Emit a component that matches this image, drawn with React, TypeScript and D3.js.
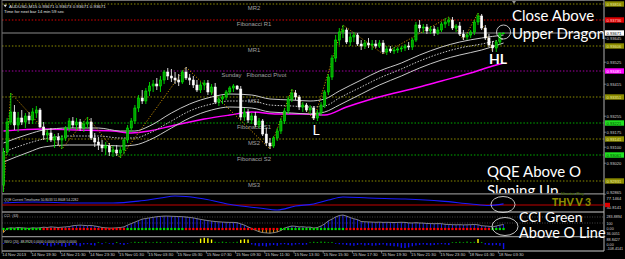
import React from 'react';
import * as d3 from 'd3';

// ---------- DATA ----------
const tickBars = [0, 8, 16, 24, 32, 40, 48, 56, 64, 72, 80, 88, 96, 104, 112, 120, 128, 136];
const tickLabels = ['14 Nov 2013', '14 Nov 19:30', '14 Nov 21:30', '14 Nov 23:30', '15 Nov 01:30', '15 Nov 03:30',
  '15 Nov 05:30', '15 Nov 07:30', '15 Nov 09:30', '15 Nov 11:30', '15 Nov 13:30', '15 Nov 15:30', '15 Nov 17:30',
  '15 Nov 19:30', '15 Nov 21:30', '15 Nov 23:30', '18 Nov 01:30', '18 Nov 03:30'];

// OHLC in price points (1e-5)
const ohlc: [number, number, number, number][] = [
  [92911, 93096, 92876, 93076], [93076, 93246, 93061, 93226], [93226, 93371, 93211, 93276], [93276, 93311, 93186, 93211],
  [93211, 93276, 93176, 93246], [93246, 93286, 93211, 93226], [93226, 93271, 93196, 93256], [93256, 93276, 93216, 93236],
  [93236, 93296, 93216, 93276], [93271, 93306, 93246, 93286], [93286, 93296, 93196, 93201], [93201, 93226, 93136, 93161],
  [93161, 93186, 93126, 93171], [93171, 93196, 93126, 93136], [93136, 93166, 93096, 93151], [93151, 93171, 93111, 93136],
  [93136, 93161, 93091, 93146], [93146, 93206, 93131, 93196], [93196, 93246, 93176, 93231], [93231, 93251, 93196, 93211],
  [93211, 93246, 93186, 93226], [93226, 93241, 93181, 93196], [93196, 93231, 93176, 93216], [93216, 93251, 93196, 93226],
  [93226, 93246, 93136, 93146], [93146, 93171, 93101, 93126], [93126, 93151, 93086, 93111], [93111, 93136, 93076, 93096],
  [93096, 93126, 93061, 93106], [93106, 93121, 93056, 93076], [93076, 93106, 93051, 93086], [93086, 93111, 93056, 93071],
  [93071, 93101, 93046, 93086], [93086, 93146, 93066, 93136], [93136, 93211, 93121, 93196], [93196, 93246, 93176, 93231],
  [93231, 93311, 93216, 93296], [93296, 93361, 93276, 93346], [93346, 93386, 93316, 93331], [93331, 93396, 93316, 93381],
  [93381, 93426, 93356, 93406], [93406, 93436, 93376, 93416], [93416, 93446, 93386, 93406], [93406, 93456, 93376, 93436],
  [93436, 93486, 93416, 93476], [93476, 93496, 93436, 93456], [93456, 93491, 93426, 93446], [93446, 93476, 93416, 93436],
  [93436, 93466, 93406, 93426], [93426, 93486, 93416, 93476], [93476, 93501, 93436, 93446], [93446, 93466, 93411, 93436],
  [93436, 93456, 93396, 93411], [93411, 93436, 93376, 93386], [93386, 93426, 93371, 93411], [93411, 93436, 93386, 93421],
  [93421, 93436, 93361, 93376], [93376, 93416, 93361, 93401], [93401, 93421, 93316, 93326], [93326, 93356, 93306, 93341],
  [93341, 93361, 93316, 93351], [93351, 93386, 93336, 93376], [93376, 93406, 93361, 93396], [93396, 93416, 93376, 93406],
  [93406, 93411, 93386, 93391], [93391, 93406, 93236, 93251], [93251, 93296, 93231, 93276], [93276, 93291, 93221, 93236],
  [93236, 93271, 93216, 93256], [93256, 93276, 93201, 93211], [93211, 93246, 93196, 93231], [93231, 93241, 93156, 93166],
  [93166, 93196, 93106, 93121], [93121, 93146, 93091, 93106], [93106, 93156, 93096, 93146], [93146, 93196, 93131, 93181],
  [93181, 93246, 93166, 93231], [93231, 93296, 93216, 93281], [93281, 93356, 93266, 93341], [93341, 93391, 93326, 93371],
  [93371, 93386, 93336, 93351], [93351, 93361, 93286, 93301], [93301, 93326, 93276, 93311], [93311, 93321, 93276, 93286],
  [93286, 93311, 93266, 93296], [93296, 93306, 93236, 93246], [93246, 93286, 93231, 93271], [93271, 93326, 93256, 93311],
  [93311, 93386, 93296, 93376], [93376, 93466, 93361, 93451], [93451, 93561, 93436, 93546], [93546, 93661, 93526, 93636],
  [93636, 93696, 93611, 93676], [93676, 93711, 93646, 93686], [93686, 93696, 93616, 93626], [93626, 93671, 93606, 93651],
  [93651, 93676, 93626, 93661], [93661, 93671, 93606, 93616], [93616, 93636, 93586, 93606], [93606, 93636, 93591, 93621],
  [93621, 93646, 93596, 93611], [93611, 93636, 93586, 93616], [93616, 93636, 93596, 93606], [93606, 93636, 93596, 93621],
  [93621, 93636, 93566, 93576], [93576, 93606, 93561, 93591], [93591, 93606, 93571, 93581], [93581, 93601, 93566, 93586],
  [93586, 93601, 93571, 93591], [93591, 93606, 93576, 93596], [93596, 93616, 93581, 93606], [93606, 93626, 93586, 93601],
  [93601, 93646, 93586, 93636], [93636, 93726, 93626, 93711], [93711, 93736, 93676, 93696], [93696, 93716, 93671, 93701],
  [93701, 93716, 93666, 93681], [93681, 93706, 93666, 93691], [93691, 93706, 93656, 93671], [93671, 93701, 93661, 93686],
  [93686, 93726, 93676, 93716], [93716, 93746, 93696, 93726], [93726, 93751, 93706, 93736], [93736, 93751, 93686, 93696],
  [93696, 93716, 93676, 93706], [93706, 93726, 93656, 93666], [93666, 93686, 93636, 93651], [93651, 93671, 93636, 93661],
  [93661, 93686, 93646, 93676], [93676, 93736, 93661, 93726], [93726, 93771, 93711, 93756], [93756, 93766, 93686, 93696],
  [93696, 93711, 93636, 93646], [93646, 93666, 93601, 93611], [93611, 93631, 93576, 93596], [93596, 93636, 93576, 93626],
  [93626, 93671, 93611, 93671], [93671, 93673, 93671, 93671],
];

const magentaIdx = [0, 11, 20, 30, 35, 40, 46, 55, 62, 68, 75, 82, 88, 94, 100, 105, 114, 120, 128, 134, 137];
const magentaVals = [93181, 93191, 93186, 93181, 93171, 93181, 93206, 93241, 93261, 93276, 93266, 93266, 93261, 93301, 93336, 93361, 93401, 93431, 93471, 93506, 93521];

const dragonIdx = [0, 7, 11, 18, 26, 32, 36, 40, 46, 51, 57, 62, 68, 73, 79, 84, 88, 92, 98, 103, 109, 114, 120, 125, 131, 137];
const dragonUpper = [93121, 93166, 93186, 93196, 93196, 93181, 93181, 93206, 93271, 93316, 93351, 93366, 93361, 93341, 93336, 93331, 93341, 93381, 93436, 93481, 93521, 93561, 93601, 93626, 93646, 93661];
const dragonMiddle = [93076, 93121, 93141, 93156, 93156, 93146, 93146, 93171, 93231, 93281, 93316, 93331, 93331, 93311, 93306, 93301, 93306, 93346, 93401, 93446, 93491, 93531, 93571, 93596, 93616, 93641];
const dragonLower = [93026, 93076, 93101, 93111, 93111, 93106, 93111, 93136, 93196, 93246, 93286, 93301, 93296, 93276, 93271, 93266, 93276, 93311, 93366, 93411, 93456, 93496, 93536, 93561, 93586, 93621];

const zigzagIdx = [0, 2, 16, 23, 32, 50, 73, 79, 85, 93, 104, 122, 126, 130, 134];
const zigzagVals = [92876, 93371, 93091, 93251, 93046, 93501, 93091, 93391, 93236, 93711, 93566, 93751, 93636, 93771, 93576];

const levelNames = ['MR2', 'Fibonacci R1', 'MR1', 'Sunday   Fibonacci Pivot', 'MS1', 'Fibonacci S1', 'MS2', 'Fibonacci S2', 'MS3'];
const levelVals = [93816, 93736, 93606, 93481, 93351, 93221, 93141, 93061, 92931];
const levelKinds = ['mid', 'r', 'mid', 'p', 'mid', 's', 'mid', 's', 'mid'];

const priceTicks = [93645, 93525, 93415, 93255, 93175, 93100, 93020, 92865];
const bidPrice = 93671;

const qqeIdx = [0, 8, 20, 30, 37, 43, 47, 50, 55, 63, 70, 75, 80, 85, 89, 93, 100, 110, 120, 128, 133, 137];
const qqeVals = [57.7, 61.5, 57.7, 57.7, 65, 77, 84.6, 82.7, 73, 50, 38.5, 30.8, 46, 54, 69, 81, 77, 73, 65, 54, 48, 54.2];
const qqeLevel = 50;
const qqeAxis = ['77.1464', '30.8141'];
const qqeAxisVals = [76.4, 38.5];

const cciVals = [
  -60, 10, 20, 15, 25, 20, 15, 10, 20, 15, 20,
  30, 25, 35, 30, 25, 30, 35, 40,
  55, 60, 65, 60, 55, 60, 50, 40,
  25, 20, 15, 15, 20, 25, 35,
  65, 90, 115, 140, 165, 175, 185, 195, 205, 210, 215, 215, 212, 210, 208, 205,
  200, 192, 185, 172, 160, 150, 140, 132, 125, 120, 115, 112, 110, 110, 105, 85, 65,
  35, 10, -20, -45, -60, -65, -70, -62, -50, -25,
  15, 35, 50, 45, 35, 38, 30, 32, 15, 25, 50, 85, 135, 165, 200, 225, 233,
  215, 190, 170, 155, 125, 120, 118, 115, 112, 115, 110, 112, 110, 108, 110, 112, 110,
  102, 100, 105, 100, 98, 92, 90, 88, 90, 88, 78, 75, 72, 70, 72, 68, 70, 72, 75, 70,
  55, 50, 45, 35, 50, 65, 75,
];
const cciLevels = [100, 200];
const cciAxis = ['283.8894', '100', '0.00', '36.0051'];
const cciAxisVals = [212, 95, 8, -75];
const cciDotRuns: [number, number, string][] = [
  [0, 10, 'up'], [11, 33, 'dn'], [34, 49, 'up'], [50, 75, 'dn'], [76, 93, 'up'], [94, 133, 'dn'], [134, 137, 'up'],
];

const wvoVals = [
  -20, 10, 15, -10, -20, 10, 15, 20, -10, -15, -30,
  -50, -70, -90, -60, -40, -80, -100, -70, -50, -60, -80, -40, -30, -50, -60,
  20, -30, 15, -20, -40, 25, -30, -50, -20, 10,
  30, 25, 20, 35, 15, 20, 30, 25, 10, 20, 30, 15, 25, 35, 20, 15, 25, 30,
  110, 130, 120, 90,
  30, 20, 35, 25, 15, 20, 30,
  80, 95, 85,
  -40, -60, -80, -70, -90, -60, -50, -70, -40, -30, -50, -60, -40, -30, -50, -40,
  20, 30, 25, 35, 30, 20, 25,
  -20, -30,
  -40, -50, -60, -70, -50, -40, -60, -50, -70, -60, -50, -40, -60, -70, -80, -90, -120, -125, -110, -80, -60, -50, -40, -50, -60, -50, -40, -30, -40, -50,
  20, 25, 30, 20, 35, 25, 30, 100, 25,
  -40, -50, -60, -50, -70,
  -150,
];
const wvoAxis = ['88.8427', '0.00', '-108.4141'];
const wvoAxisVals = [75, -30, -135];

// ---------- STYLE ----------
const FONT = "'Liberation Sans', Arial, sans-serif";
const BIG = "Lato, 'Open Sans', sans-serif";
const levelStyle: Record<string, { line: string; box: string; text: string }> = {
  mid: { line: '#8c8c00', box: '#8c8c00', text: '#e8e8a0' },
  r: { line: '#e00000', box: '#e00000', text: '#ffd0d0' },
  p: { line: '#a000a0', box: '#ff00ff', text: '#ffffff' },
  s: { line: '#00b000', box: '#20e020', text: '#004000' },
};

export default function App() {
  React.useEffect(() => {
    document.body.style.margin = '0';
    document.body.style.background = '#000';
  }, []);

  const n = ohlc.length;
  const step = 3.65;
  const x = d3.scaleLinear().domain([0, n - 1]).range([3.5, 3.5 + (n - 1) * step]);
  const yP = d3.scaleLinear().domain([93836, 92866]).range([0, 194]);
  const yQ = d3.scaleLinear().domain([88.5, 11.5]).range([195, 215]);
  const yC = d3.scaleLinear().domain([0, 100]).range([229, 223]);
  const yW = d3.scaleLinear().domain([0, 100]).range([243, 239]);

  const priceLine = (idx: number[], vals: number[]) =>
    d3.line<number>().x((_, i) => x(idx[i])).y(v => yP(v)).curve(d3.curveMonotoneX)(vals) || '';
  const zig = d3.line<number>().x((_, i) => x(zigzagIdx[i])).y(v => yP(v))(zigzagVals) || '';
  const qqePath = d3.line<number>().x((_, i) => x(qqeIdx[i])).y(v => yQ(v)).curve(d3.curveMonotoneX)(qqeVals) || '';
  const cciPath = d3.line<number>().x((_, i) => x(i)).y(v => yC(v))(cciVals) || '';

  const dotColor: string[] = [];
  cciDotRuns.forEach(([a, b, k]) => { for (let i = a; i <= b; i++) dotColor[i] = k === 'up' ? '#00e000' : '#ff0000'; });

  const fmt = (p: number) => (p / 100000).toFixed(5);
  const bw = 2.2;
  const axisX = 604;

  return (
    <svg width={625} height={259} style={{ position: 'absolute', left: 0, top: 0, background: '#000', display: 'block' }} fontFamily={FONT}>
      <rect x={0} y={0} width={625} height={259} fill="#000" />
      <defs>
        <clipPath id="mainClip"><rect x={2} y={1} width={602} height={192.5} /></clipPath>
      </defs>

      {/* main chart */}
      <g clipPath="url(#mainClip)">
        {levelVals.map((v, i) => (
          <line key={'lv' + i} x1={2} x2={axisX} y1={yP(v)} y2={yP(v)} stroke={levelStyle[levelKinds[i]].line}
            strokeWidth={1} strokeDasharray="1.5 1.8" />
        ))}
        <line x1={2} x2={axisX} y1={yP(bidPrice)} y2={yP(bidPrice)} stroke="#5c5c5c" strokeWidth={1.6} />
        {levelVals.map((v, i) => (
          <text key={'ln' + i} x={254} y={yP(v) + 6.3} fontSize={5.9} fill="#a0a0a0" textAnchor="middle" style={{ whiteSpace: 'pre' }}>{levelNames[i]}</text>
        ))}

        <path d={priceLine(magentaIdx, magentaVals)} fill="none" stroke="#ff00ff" strokeWidth={1.4} />
        <path d={priceLine(dragonIdx, dragonUpper)} fill="none" stroke="#c8c8c8" strokeWidth={1} />
        <path d={priceLine(dragonIdx, dragonMiddle)} fill="none" stroke="#c8c8c8" strokeWidth={1} strokeDasharray="1.5 1.5" />
        <path d={priceLine(dragonIdx, dragonLower)} fill="none" stroke="#c8c8c8" strokeWidth={1} />
        <path d={zig} fill="none" stroke="#c08a00" strokeWidth={1} strokeDasharray="1.2 1.6" />

        {ohlc.map(([o, h, l, c], i) => {
          const up = c >= o;
          const col = up ? '#00ff00' : '#ffffff';
          const top = yP(Math.max(o, c));
          const bh = Math.max(0.8, Math.abs(yP(o) - yP(c)));
          return (
            <g key={'c' + i}>
              <line x1={x(i)} x2={x(i)} y1={yP(h)} y2={yP(l)} stroke={up ? '#00e000' : '#e8e8e8'} strokeWidth={0.9} />
              <rect x={x(i) - bw / 2} y={top} width={bw} height={bh} fill={up ? '#00a000' : '#ffffff'} stroke={col} strokeWidth={0.5} />
            </g>
          );
        })}

        {/* annotations */}
        <circle cx={x(n - 1)} cy={yP(bidPrice) - 1} r={7} fill="none" stroke="#d8d8d8" strokeWidth={0.9} />
        <text x={512} y={20.5} fontFamily={BIG} fontSize={15} fill="#ffffff">Close Above</text>
        <text x={512} y={38.5} fontFamily={BIG} fontSize={15} fill="#ffffff">Upper Dragon</text>
        <text x={489} y={63.5} fontFamily={BIG} fontSize={14} fontWeight={700} fill="#ffffff">HL</text>
        <text x={312.5} y={135} fontFamily={BIG} fontSize={14} fill="#ffffff">L</text>
        <text x={487} y={176.7} fontFamily={BIG} fontSize={15} fill="#ffffff">QQE Above O</text>
        <text x={487} y={195.5} fontFamily={BIG} fontSize={15} fill="#ffffff">Sloping Up</text>

        <text x={9} y={7.8} fontSize={4.4} fill="#e0e0e0">AUDUSD,M15  0.93671 0.93673 0.93671 0.93671</text>
        <path d="M3.5,4.8 L7,4.8 L5.25,7.2 Z" fill="#e0e0e0" />
        <text x={4} y={13} fontSize={4.3} fill="#e0e0e0">Time for next bar 14 min 59 sec</text>
        <path d="M512,1 L516,1 L514,4 Z" fill="#909090" />
      </g>

      {/* panel separators and frame */}
      <line x1={2} x2={2} y1={0} y2={251} stroke="#707070" strokeWidth={1} />
      <line x1={2} x2={axisX} y1={0.5} y2={0.5} stroke="#707070" strokeWidth={1} />
      {[193.8, 212, 236.7, 251].map((yy, i) => (
        <line key={'sep' + i} x1={2} x2={axisX} y1={yy} y2={yy} stroke="#8a8a8a" strokeWidth={1.3} />
      ))}
      <line x1={axisX} x2={axisX} y1={0} y2={251} stroke="#b0b0b0" strokeWidth={1} />

      {/* QQE panel */}
      <line x1={2} x2={axisX} y1={yQ(qqeLevel)} y2={yQ(qqeLevel)} stroke="#c00000" strokeWidth={1} />
      <path d={qqePath} fill="none" stroke="#1a1aff" strokeWidth={1.1} />
      <text x={4} y={201} fontSize={3.3} fill="#d0d0d0">QQE Current Timeframe 50.8033 51.8608 54.2282</text>
      <ellipse cx={503} cy={204.5} rx={12} ry={8} fill="none" stroke="#d8d8d8" strokeWidth={0.9} />
      <text x={561} y={195.2} fontFamily={BIG} fontSize={4.5} fontWeight={900} fill="#3a5a00">Hunter Day</text>
      <text x={552} y={206} fontFamily={BIG} fontSize={10.5} fontWeight={900} fill="#8c8c00">THV V 3</text>

      {/* CCI panel */}
      {cciLevels.map((lv, i) => (
        <line key={'cl' + i} x1={2} x2={axisX} y1={yC(lv)} y2={yC(lv)} stroke="#707070" strokeWidth={0.6} strokeDasharray="1 1.5" />
      ))}
      {cciVals.map((v, i) => (
        <line key={'ch' + i} x1={x(i)} x2={x(i)} y1={yC(0)} y2={yC(v)} stroke={v >= 0 ? '#1a1ae8' : '#ff9900'} strokeWidth={1} />
      ))}
      <path d={cciPath} fill="none" stroke="#a0a0a0" strokeWidth={0.8} />
      {cciVals.map((_, i) => (
        <rect key={'cd' + i} x={x(i) - 1.1} y={yC(0) - 1.1} width={2.2} height={2.2} fill={dotColor[i]} />
      ))}
      <text x={4} y={216.5} fontSize={3.3} fill="#d0d0d0">CCI · (63)</text>
      <ellipse cx={505} cy={226.5} rx={13} ry={9} fill="none" stroke="#d8d8d8" strokeWidth={0.9} />
      <text x={519} y={222} fontFamily={BIG} fontSize={14} fill="#ffffff">CCI Green</text>
      <text x={519} y={238.3} fontFamily={BIG} fontSize={14.5} fill="#ffffff">Above O Line</text>

      {/* WVO panel */}
      {wvoVals.map((v, i) => (
        <line key={'w' + i} x1={x(i)} x2={x(i)} y1={yW(0)} y2={yW(v)}
          stroke={v >= 80 ? '#ffff00' : v >= 0 ? '#00a000' : '#1010f0'} strokeWidth={1.4} />
      ))}
      <text x={4} y={243} fontSize={3.3} fill="#d0d0d0">WVO (20) -88.9926 0.0000 0.0000 0.0000 0.0000</text>

      {/* right price axis */}
      <g fontSize={4.1}>
        {priceTicks.map((p, i) => (
          <g key={'pt' + i}>
            <line x1={axisX} x2={axisX + 2} y1={yP(p)} y2={yP(p)} stroke="#b0b0b0" strokeWidth={0.6} />
            <text x={606.5} y={Math.min(yP(p) + 1.5, 194.2)} fill="#d0d0d0">{fmt(p)}</text>
          </g>
        ))}
        {levelVals.map((v, i) => (
          <g key={'lb' + i}>
            <rect x={605} y={yP(v) - 2.7} width={19} height={5.4} fill={levelStyle[levelKinds[i]].box} />
            <text x={606.5} y={yP(v) + 1.5} fill={levelStyle[levelKinds[i]].text}>{fmt(v)}</text>
          </g>
        ))}
        <rect x={605} y={yP(bidPrice) - 2.7} width={19} height={5.4} fill="#ffffff" />
        <text x={606.5} y={yP(bidPrice) + 1.5} fill="#000000">{fmt(bidPrice)}</text>

        {qqeAxis.map((t, i) => (
          <text key={'qa' + i} x={606.5} y={yQ(qqeAxisVals[i]) + 1.5} fill="#d0d0d0">{t}</text>
        ))}
        <rect x={605} y={yQ(qqeLevel) - 2.2} width={5} height={4.4} fill="#e00000" />
      </g>
      <g fontSize={3.7}>
        {cciAxis.map((t, i) => (
          <text key={'ca' + i} x={606.5} y={yC(cciAxisVals[i]) + 1.3} fill="#d0d0d0">{t}</text>
        ))}
        {wvoAxis.map((t, i) => (
          <text key={'wa' + i} x={606.5} y={yW(wvoAxisVals[i]) + 1.3} fill="#d0d0d0">{t}</text>
        ))}
      </g>

      {/* time axis */}
      {tickBars.map((b, i) => (
        <g key={'tk' + i}>
          <line x1={x(b) - 1.5} x2={x(b) - 1.5} y1={251} y2={253.5} stroke="#b0b0b0" strokeWidth={0.6} />
          <text x={x(b) - 1.2} y={256.3} fontSize={4.2} fill="#d0d0d0">{tickLabels[i]}</text>
        </g>
      ))}
    </svg>
  );
}
